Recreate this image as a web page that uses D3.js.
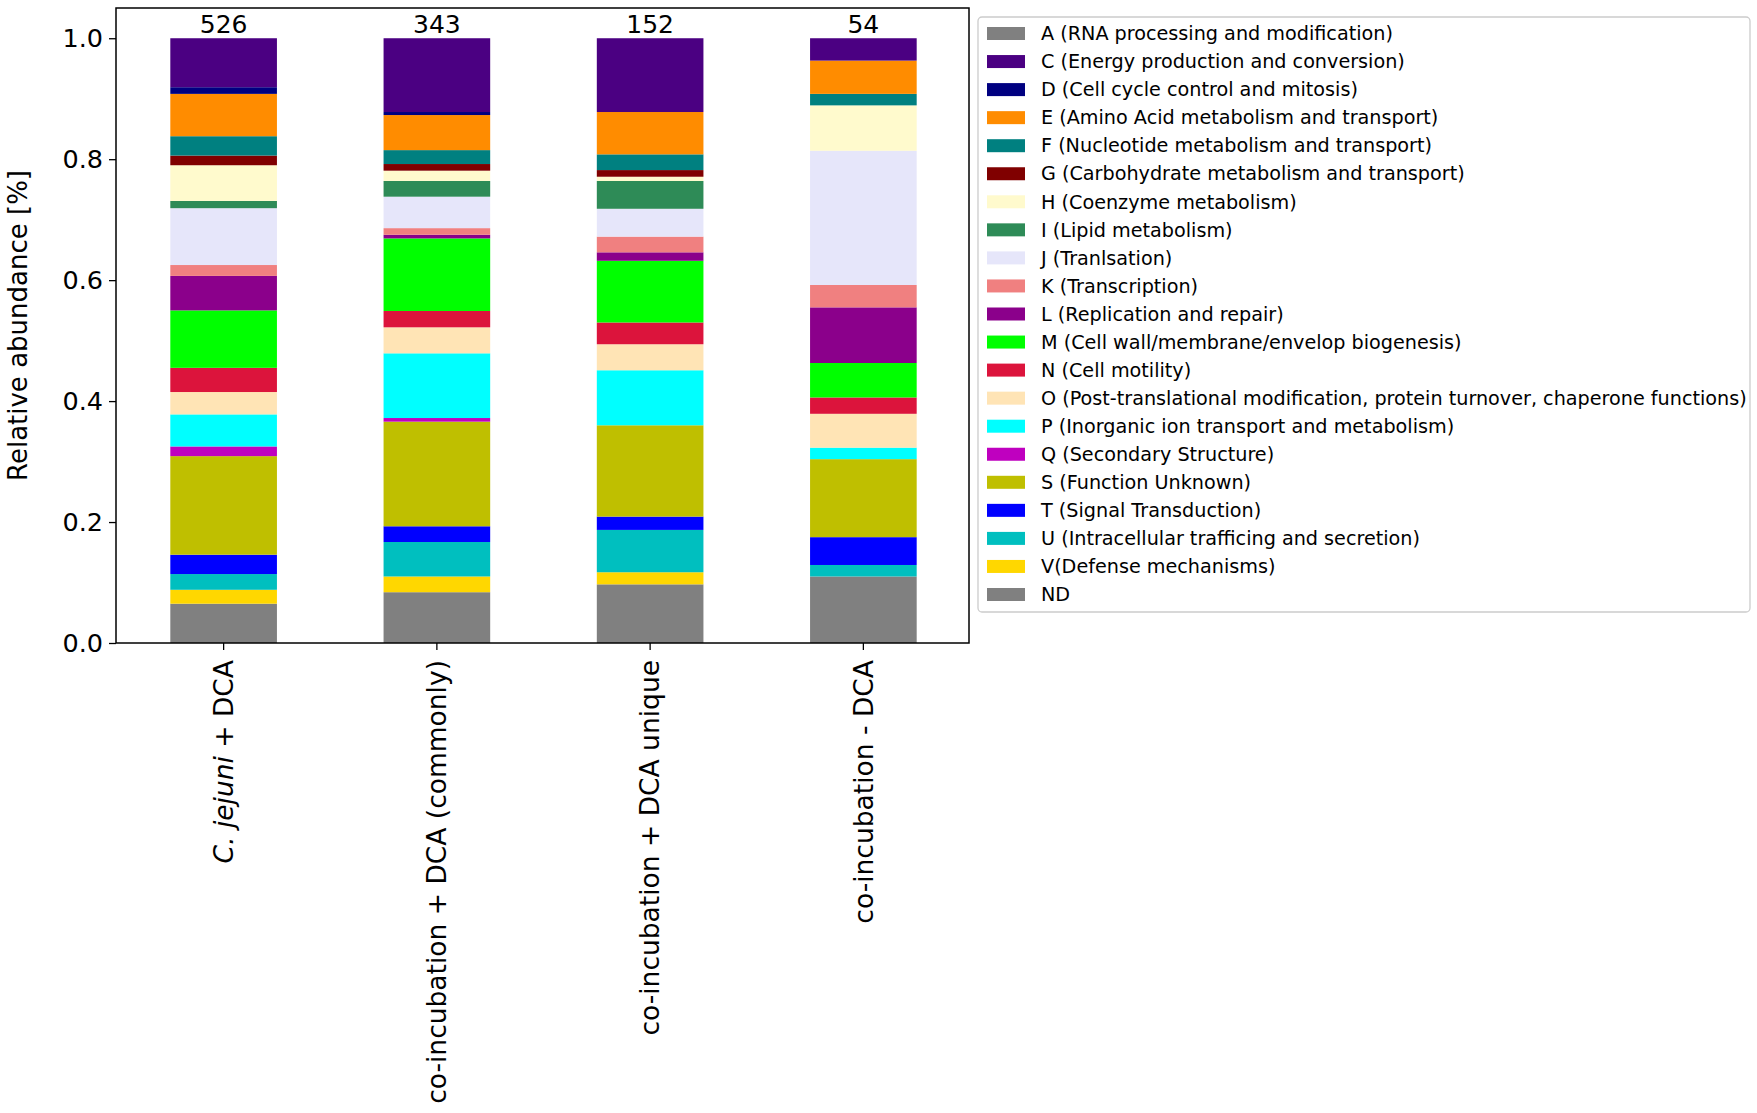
<!DOCTYPE html>
<html>
<head>
<meta charset="utf-8">
<script src="https://cdn.jsdelivr.net/npm/d3@7"></script>
<style>
  body { margin: 0; background: #fff; }
  text { font-family: "DejaVu Sans", Verdana, sans-serif; fill: #000; }
</style>
</head>
<body>
<div id="chart"></div>
<script>
// samples on the x axis and the number of genes above each bar
const samples = ["C. jejuni + DCA", "co-incubation + DCA (commonly)", "co-incubation + DCA unique", "co-incubation - DCA"];
const geneCounts = [526, 343, 152, 54];

// COG categories, legend order
const cogKeys = ["A", "C", "D", "E", "F", "G", "H", "I", "J", "K", "L", "M", "N", "O", "P", "Q", "S", "T", "U", "V", "ND"];
const cogLabels = [
    "A (RNA processing and modification)",
    "C (Energy production and conversion)",
    "D (Cell cycle control and mitosis)",
    "E (Amino Acid metabolism and transport)",
    "F (Nucleotide metabolism and transport)",
    "G (Carbohydrate metabolism and transport)",
    "H (Coenzyme metabolism)",
    "I (Lipid metabolism)",
    "J (Tranlsation)",
    "K (Transcription)",
    "L (Replication and repair)",
    "M (Cell wall/membrane/envelop biogenesis)",
    "N (Cell motility)",
    "O (Post-translational modification, protein turnover, chaperone functions)",
    "P (Inorganic ion transport and metabolism)",
    "Q (Secondary Structure)",
    "S (Function Unknown)",
    "T (Signal Transduction)",
    "U (Intracellular trafficing and secretion)",
    "V(Defense mechanisms)",
    "ND"
];
const cogColors = ["#808080", "#4b0082", "#000080", "#ff8c00", "#008080", "#800000", "#fffacd", "#2e8b57",
    "#e6e6fa", "#f08080", "#8b008b", "#00ff00", "#dc143c", "#ffe4b5", "#00ffff", "#bf00bf", "#bfbf00",
    "#0000ff", "#00bfbf", "#ffd700", "#808080"];

// relative abundance per sample, same order as cogKeys
const cjejuniDCA   = [0, 0.081, 0.011, 0.070, 0.032, 0.016, 0.059, 0.012, 0.094, 0.018, 0.057, 0.095, 0.040, 0.037, 0.053, 0.016, 0.163, 0.032, 0.026, 0.023, 0.065];
const coincCommon  = [0, 0.122, 0.005, 0.058, 0.023, 0.011, 0.017, 0.026, 0.052, 0.011, 0.006, 0.120, 0.027, 0.043, 0.107, 0.006, 0.173, 0.026, 0.057, 0.026, 0.084];
const coincUnique  = [0, 0.122, 0, 0.070, 0.026, 0.011, 0.007, 0.046, 0.046, 0.026, 0.014, 0.102, 0.036, 0.043, 0.091, 0, 0.151, 0.022, 0.070, 0.020, 0.097];
const coincNoDCA   = [0, 0.037, 0, 0.055, 0.019, 0, 0.075, 0, 0.222, 0.037, 0.092, 0.057, 0.027, 0.056, 0.019, 0, 0.129, 0.046, 0.019, 0, 0.110];

const yTicks = [0, 0.2, 0.4, 0.6, 0.8, 1.0];

const W = 1757, H = 1113;
const plot = { left: 116, right: 969, top: 8, bottom: 643 };

const table = [cjejuniDCA, coincCommon, coincUnique, coincNoDCA].map(function (vals, i) {
    const row = { sample: samples[i], n: geneCounts[i] };
    cogKeys.forEach(function (k, j) { row[k] = vals[j]; });
    return row;
});

const svg = d3.select("#chart").append("svg")
    .attr("width", W)
    .attr("height", H);

const x = d3.scaleBand()
    .domain(samples)
    .range([plot.left + 1, plot.right + 1])
    .paddingInner(0.5)
    .paddingOuter(0.25);

const y = d3.scaleLinear()
    .domain([0, 1.05])
    .range([plot.bottom, plot.top]);

const color = d3.scaleOrdinal().domain(cogKeys).range(cogColors);

// bottom of the stack is ND, top is A
const stacked = d3.stack().keys(cogKeys.slice().reverse())(table);

svg.append("g")
    .selectAll("g")
    .data(stacked)
    .join("g")
    .attr("fill", d => color(d.key))
    .selectAll("rect")
    .data(d => d)
    .join("rect")
    .attr("x", d => x(d.data.sample))
    .attr("width", x.bandwidth())
    .attr("y", d => y(d[1]))
    .attr("height", d => y(d[0]) - y(d[1]));

// gene counts above bars
svg.append("g")
    .selectAll("text")
    .data(table)
    .join("text")
    .attr("x", d => x(d.sample) + x.bandwidth() / 2)
    .attr("y", y(1) - 5)
    .attr("text-anchor", "middle")
    .style("font-size", "25px")
    .text(d => d.n);

// axes
const yAxis = svg.append("g")
    .attr("transform", "translate(" + plot.left + ",0)")
    .call(d3.axisLeft(y).tickValues(yTicks).tickFormat(d3.format(".1f")).tickSizeOuter(0).tickSize(7).tickPadding(6));
yAxis.select(".domain").remove();
yAxis.selectAll("text").style("font-size", "25.5px").style("font-family", "DejaVu Sans");
yAxis.selectAll("line").attr("stroke-width", 1.3);

const xAxis = svg.append("g")
    .attr("transform", "translate(0," + plot.bottom + ")")
    .call(d3.axisBottom(x).tickSizeOuter(0).tickSize(7).tickFormat(""));
xAxis.select(".domain").remove();
xAxis.selectAll("line").attr("stroke-width", 1.3);

// rotated sample labels, first one with italic species name
const xLabels = svg.append("g")
    .selectAll("text")
    .data(samples)
    .join("text")
    .attr("transform", d => "translate(" + (x(d) + x.bandwidth() / 2) + "," + (plot.bottom + 17) + ") rotate(-90)")
    .attr("text-anchor", "end")
    .attr("dy", "0.35em")
    .style("font-size", "26.5px");

xLabels.each(function (d, i) {
    const t = d3.select(this);
    if (i === 0) {
        t.append("tspan").style("font-style", "italic").text("C. jejuni");
        t.append("tspan").text(" + DCA");
    } else {
        t.text(d);
    }
});

// frame
svg.append("rect")
    .attr("x", plot.left)
    .attr("y", plot.top)
    .attr("width", plot.right - plot.left)
    .attr("height", plot.bottom - plot.top)
    .attr("fill", "none")
    .attr("stroke", "#000")
    .attr("stroke-width", 1.5);

svg.append("text") // y axis label
    .attr("transform", "translate(18," + ((plot.top + plot.bottom) / 2) + ") rotate(-90)")
    .attr("text-anchor", "middle")
    .attr("dy", "0.35em")
    .style("font-size", "26px")
    .text("Relative abundance [%]");

// legend
const legend = svg.append("g").attr("transform", "translate(978,17)");
legend.append("rect")
    .attr("width", 772)
    .attr("height", 595)
    .attr("rx", 4)
    .attr("fill", "#fff")
    .attr("stroke", "#cccccc")
    .attr("stroke-width", 1.3);

const rowH = 28.05;
const item = legend.selectAll("g.item")
    .data(cogKeys)
    .join("g")
    .attr("class", "item")
    .attr("transform", (d, i) => "translate(0," + (16.5 + i * rowH) + ")");

item.append("rect")
    .attr("x", 9)
    .attr("y", -6.5)
    .attr("width", 38)
    .attr("height", 13)
    .attr("fill", d => color(d));

item.append("text")
    .attr("x", 63)
    .attr("dy", "0.35em")
    .style("font-size", "19.2px")
    .text((d, i) => cogLabels[i]);
</script>
</body>
</html>
